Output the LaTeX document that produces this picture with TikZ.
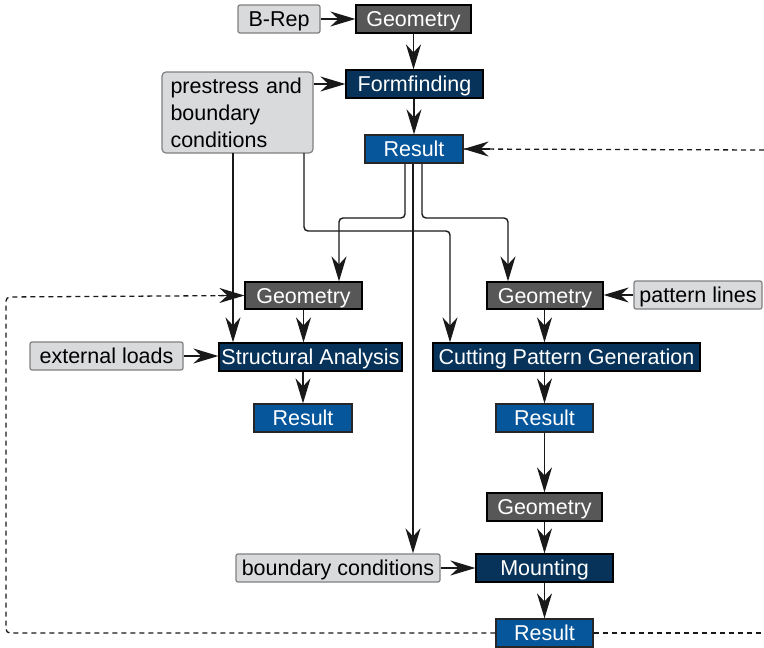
\documentclass[tikz,border=0pt]{standalone}
\usepackage{fontspec}
\setmainfont{Liberation Sans}
\usetikzlibrary{arrows.meta}
\definecolor{lgray}{RGB}{217,218,220}
\definecolor{lborder}{RGB}{128,128,128}
\definecolor{dgray}{RGB}{87,87,87}
\definecolor{navy}{RGB}{7,51,90}
\definecolor{blueres}{RGB}{6,86,155}
\begin{document}
\begin{tikzpicture}[x=1pt,y=-1pt,
  every node/.style={font=\fontsize{21.5}{26}\selectfont, inner sep=0pt, minimum height=28pt},
  oneline/.style={text height=15.4pt, text depth=0pt},
  inbox/.style={oneline, draw=lborder, fill=lgray, line width=1.2pt, rounded corners=2pt, text=black},
  geobox/.style={oneline, draw=black, fill=dgray, line width=1.2pt, text=white},
  procbox/.style={oneline, draw=black, fill=navy, line width=1.2pt, text=white},
  resbox/.style={oneline, draw=black!85, fill=blueres, line width=1.2pt, text=white},
  arrowtip/.style={-{Stealth[length=25pt,width=15pt,inset=8pt]}},
  conn/.style={draw=black!90, line width=1.4pt, arrowtip, rounded corners=4pt},
  loopline/.style={draw=black!90, line width=1.3pt, dash pattern=on 5pt off 4pt, rounded corners=4pt}
]
\useasboundingbox (0,0) rectangle (764,648);

% nodes
\node[inbox, minimum width=82pt] (brep) at (279,19) {B-Rep};
\node[geobox, minimum width=115pt] (geo1) at (413.5,19) {Geometry};
\node[procbox, minimum width=137pt] (form) at (414.5,84) {Formfinding};
\node[draw=lborder, fill=lgray, line width=1.2pt, minimum width=151pt, minimum height=81pt, rounded corners=4pt, align=left, text width=134pt, font=\fontsize{21.5}{27}\selectfont] (pre) at (237.5,112.5) {prestress and\\boundary\\conditions};
\node[resbox, minimum width=98pt] (res1) at (414,149) {Result};

\node[geobox, minimum width=117pt, minimum height=27pt] (geo2) at (303.5,295.5) {Geometry};
\node[geobox, minimum width=116pt, minimum height=27pt] (geo3) at (545,295.5) {Geometry};
\node[inbox, minimum width=128pt] (pat) at (698,295) {pattern lines};

\node[inbox, minimum width=153pt] (ext) at (106.5,356) {external loads};
\node[procbox, minimum width=183pt] (sa) at (310.5,357) {Structural Analysis};
\node[procbox, minimum width=267pt] (cpg) at (566.5,357) {Cutting Pattern Generation};

\node[resbox, minimum width=98pt] (res2) at (303,418) {Result};
\node[resbox, minimum width=97pt] (res3) at (544.5,418) {Result};

\node[geobox, minimum width=115pt] (geo4) at (544.5,507) {Geometry};
\node[inbox, minimum width=204pt] (bc) at (338,568) {boundary conditions};
\node[procbox, minimum width=137pt] (mount) at (544.5,568) {Mounting};
\node[resbox, minimum width=97pt] (res4) at (544.5,633) {Result};

% helper coordinates
\coordinate (k1) at (339,218);
\coordinate (k2) at (508,218);
\coordinate (p1) at (233,153);
\coordinate (p2) at (304,153);
\coordinate (k3) at (450,231);
\coordinate (d1) at (6,633);
\coordinate (d2) at (6,297);
\coordinate (r1) at (764,633);
\coordinate (r2) at (764,150);

% connectors
\draw[conn] (brep.east) -- (geo1.west);
\draw[conn] (geo1.south) -- (geo1.south |- form.north);
\draw[conn] (pre.east |- form) -- (form.west);
\draw[conn] (form.south -| res1) -- (res1.north);

\draw[conn] ([xshift=-9pt]res1.south) |- (k1) -- (k1 |- geo2.north);
\draw[conn] ([xshift=8pt]res1.south) |- (k2) -- (k2 |- geo3.north);
\draw[conn] ([xshift=-1pt]res1.south) -- ([xshift=-1pt]res1.south |- bc.north);

\draw[conn] (p1) -- (p1 |- sa.north);
\draw[conn] (p2) |- (k3) -- (k3 |- cpg.north);

\draw[conn] (geo2.south) -- (geo2.south |- sa.north);
\draw[conn] (ext.east) -- (ext.east -| sa.west);
\draw[conn] (sa.south -| res2) -- (res2.north);

\draw[conn] (pat.west) -- (pat.west -| geo3.east);
\draw[conn] (geo3.south -| res3) -- (res3 |- cpg.north);
\draw[conn] (cpg.south -| res3) -- (res3.north);

\draw[conn] (res3.south) -- (geo4.north);
\draw[conn] (geo4.south) -- (mount.north);
\draw[conn] (bc.east) -- (bc.east -| mount.west);
\draw[conn] (mount.south) -- (res4.north);

% feedback loops
\draw[loopline] (res4.west) -- (d1) -- (d2) -- (geo2.west);
\draw[draw=black!90, line width=1.4pt, arrowtip] ([xshift=-26pt]geo2.west) -- (geo2.west);
\draw[loopline] (res4.east) -- (r1);
\draw[loopline] (r2) -- (res1.east);
\draw[draw=black!90, line width=1.4pt, arrowtip] ([xshift=26pt]res1.east) -- (res1.east);
\end{tikzpicture}
\end{document}
